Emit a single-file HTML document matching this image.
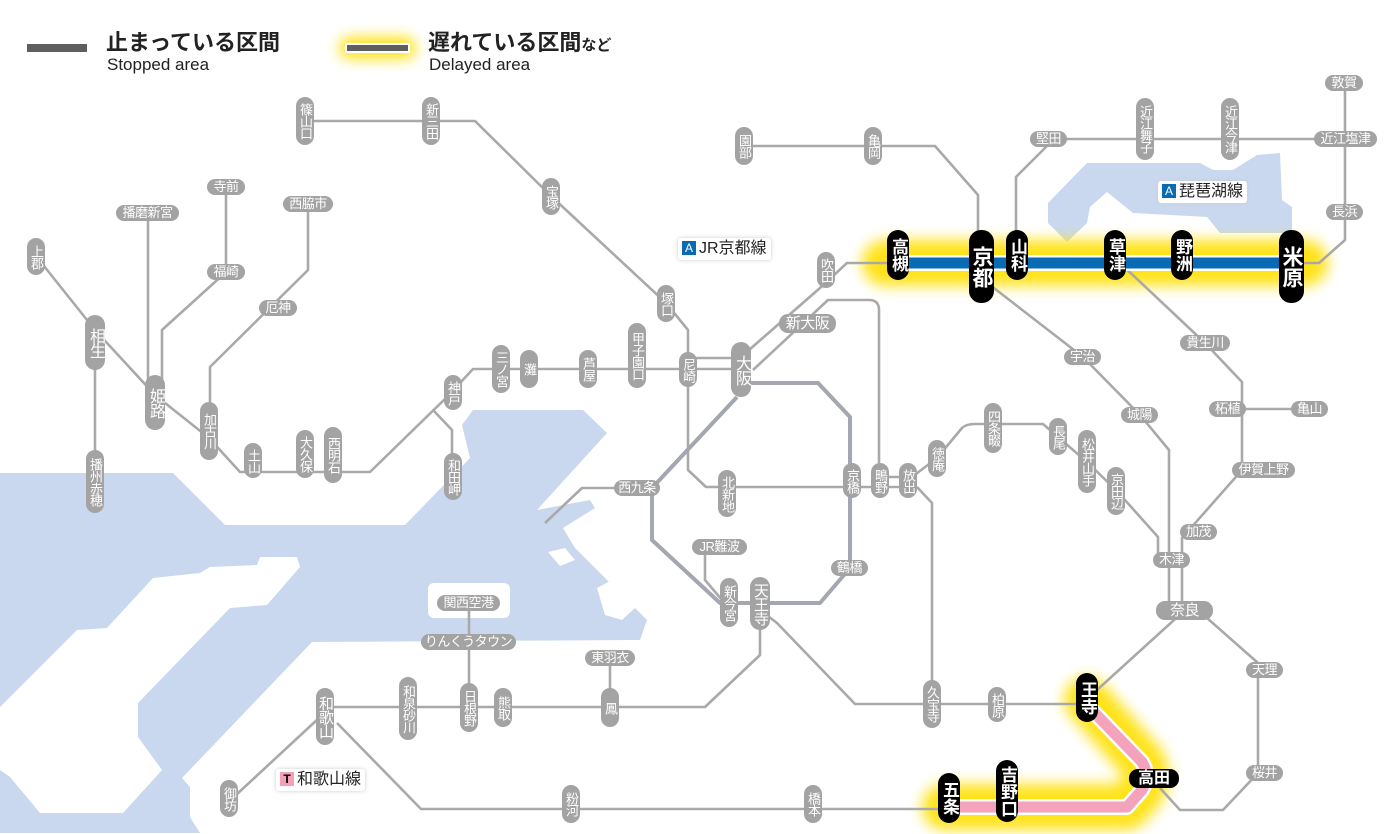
<!DOCTYPE html>
<html><head><meta charset="utf-8"><style>
body{margin:0;width:1400px;height:834px;overflow:hidden;background:#fff;position:relative;font-family:"Liberation Sans","Noto Sans CJK JP",sans-serif}
svg{position:absolute;left:0;top:0}
.v,.h,.b,.bh{position:absolute;color:#fff;text-align:center;white-space:nowrap;box-sizing:border-box}
.v{width:18px;border-radius:9px;background:#a3a3a3;font-size:13px;line-height:18px;writing-mode:vertical-rl;letter-spacing:-1px;display:flex;align-items:center;justify-content:center}
.v.g{width:20px;border-radius:10px;font-size:16px;line-height:20px}
.h{height:16px;border-radius:8px;background:#a3a3a3;font-size:13px;line-height:16px;letter-spacing:-0.5px}
.h.g{height:19px;border-radius:9px;font-size:15px;line-height:19px}
.b{width:22px;border-radius:11px;background:#000;font-size:17px;line-height:22px;writing-mode:vertical-rl;display:flex;align-items:center;justify-content:center;font-weight:bold}
.b.g{width:25px;border-radius:12px;font-size:21px;line-height:25px}
.bh{height:19px;border-radius:9px;background:#000;font-size:16px;line-height:19px;font-weight:bold}
.lab{position:absolute;background:#fff;box-shadow:0 0 4px #ccc;border-radius:3px;font-size:16px;line-height:20px;color:#222;padding:1px 4px;white-space:nowrap}
.lab i{display:inline-block;width:14px;height:14px;line-height:14px;font-size:12px;font-style:normal;text-align:center;color:#fff;background:#0a6bb5;margin-right:3px;vertical-align:1px}
.leg{position:absolute;color:#222;white-space:nowrap}
</style></head><body>
<svg width="1400" height="834" viewBox="0 0 1400 834">
<defs><filter id="bl" x="-20%" y="-50%" width="140%" height="200%"><feGaussianBlur stdDeviation="7"/></filter></defs>
<!-- water -->
<g fill="#c9d8ef">
<path d="M0,473 L173,473 L225,525 L405,525 L470,458 L462,425 L473,410 L583,410 L607,433 L537,510 L590,500 L595,508 L563,528 L575,548 L647,620 L640,640 L312,642 L182,778 L190,787 L190,817 L200,833 L0,833 Z"/>
<path d="M1087,163 L1200,163 L1213,170 L1233,170 L1257,155 L1280,153 L1282,200 L1292,207 L1292,233 L1220,233 L1207,217 L1133,213 L1107,192 L1090,207 L1087,223 L1067,242 L1048,223 L1048,203 Z"/>
</g>
<g fill="#fff">
<path d="M260,557 L297,557 L300,567 L267,605 L230,608 L138,703 L138,737 L162,770 L123,813 L40,813 L10,777 L0,770 L0,707 L77,630 L107,628 L153,578 L200,573 L210,567 L257,565 Z"/>
<rect x="428" y="583" width="82" height="35" rx="6"/>
<path d="M597,588 L612,580 L635,608 L622,620 L605,615 Z"/>
<path d="M548,552 L565,548 L575,560 L560,566 Z"/>
</g>
<!-- glows -->
<g stroke="#ffe000" fill="none" stroke-linecap="round" stroke-linejoin="round" filter="url(#bl)" opacity="0.9">
<path d="M885,263 H1305" stroke-width="46"/>
<path d="M1087,700 L1142,762 Q1150,775 1142,790 L1127,807 H945" stroke-width="46"/>
<path d="M350,48 H405" stroke-width="22"/>
</g>
<!-- grey lines -->
<g stroke="#a9a9a9" stroke-width="2.6" fill="none" stroke-linejoin="round">
<path d="M305,121 H475 L551,196 L666,303 L688,330 V470 L706,487 H908"/>
<path d="M880,477 H908"/>
<path d="M879,463 V310 Q879,300 869,300 H828 L753,370"/>
<path d="M741,357 L820,288 L847,263 H898"/>
<path d="M36,256 L95,330 L155,395 L209,438 L240,472 H370 L447,397 L473,369 H741"/>
<path d="M688,358 H741"/>
<path d="M433,410 L452,430 V470"/>
<path d="M95,340 V490"/>
<path d="M148,213 V400"/>
<path d="M226,187 V272 L162,330 V400"/>
<path d="M308,204 V270 L210,367 V430"/>
<path d="M744,146 H935 L978,195 V260"/>
<path d="M990,285 L1083,357 L1140,415 L1169,450 V610"/>
<path d="M1016,250 V177 L1046,147 L1049,139 H1346"/>
<path d="M1345,83 V240 L1319,263 H1291"/>
<path d="M1120,263 L1205,343 L1242,382 V470 L1182,538 V610"/>
<path d="M1228,409 H1310"/>
<path d="M908,480 L937,458 L962,428 Q966,424 975,424 H1043 L1058,437 L1087,462 L1116,490 L1158,537 V560"/>
<path d="M1185,610 L1097,690 L1085,704"/>
<path d="M917,487 L932,503 V704"/>
<path d="M760,610 L777,623 L855,704 H1087"/>
<path d="M1207,618 L1258,663 V773 L1223,810 H1180 L1160,788"/>
<path d="M949,809 H421 L337,723"/>
<path d="M319,718 L236,795"/>
<path d="M325,707 H705 L760,655 V620"/>
<path d="M610,658 V700"/>
<path d="M469,603 V700"/>
<path d="M637,488 H582 L545,523"/>
<path d="M705,547 V580 L722,600"/>
</g>
<path d="M741,383 H818 L850,417 V568 L820,603 H720 L652,540 V488 L737,397" stroke="#a4a6b2" stroke-width="4" fill="none" stroke-linejoin="round"/>
<!-- highlighted lines -->
<path d="M898,263 H1291" stroke="#fff" stroke-width="16" fill="none"/>
<path d="M898,263 H1291" stroke="#0a6bb5" stroke-width="11" fill="none"/>
<path d="M1087,705 L1142,762 Q1150,775 1142,790 L1127,807 H949" stroke="#fff" stroke-width="16" fill="none" stroke-linejoin="round"/>
<path d="M1087,705 L1142,762 Q1150,775 1142,790 L1127,807 H949" stroke="#f3a3bb" stroke-width="11" fill="none" stroke-linejoin="round"/>
<!-- legend bars -->
<rect x="27" y="44" width="60" height="8" fill="#5f5f5f"/>
<rect x="345" y="43" width="65" height="10" fill="#fff"/>
<rect x="347" y="45" width="61" height="6" fill="#5f5f5f"/>
</svg>

<div class="leg" style="left:106px;top:25px;font-size:22px;font-weight:bold">止まっている区間</div>
<div class="leg" style="left:107px;top:55px;font-size:17px">Stopped area</div>
<div class="leg" style="left:428px;top:25px;font-size:22px;font-weight:bold">遅れている区間<span style="font-size:15px">など</span></div>
<div class="leg" style="left:429px;top:55px;font-size:17px">Delayed area</div>

<div class="lab" style="left:678px;top:238px"><i>A</i>JR京都線</div>
<div class="lab" style="left:1158px;top:181px"><i>A</i>琵琶湖線</div>
<div class="lab" style="left:276px;top:769px"><i style="background:#f4a0b8;color:#000;font-weight:bold">T</i>和歌山線</div>

<!-- vertical grey -->
<div class="v" style="left:296px;top:97px;height:48px">篠山口</div>
<div class="v" style="left:422px;top:97px;height:48px">新三田</div>
<div class="v" style="left:27px;top:238px;height:37px">上郡</div>
<div class="v g" style="left:85px;top:315px;height:55px">相生</div>
<div class="v g" style="left:145px;top:375px;height:55px">姫路</div>
<div class="v" style="left:200px;top:402px;height:58px">加古川</div>
<div class="v" style="left:244px;top:443px;height:35px">土山</div>
<div class="v" style="left:296px;top:430px;height:48px">大久保</div>
<div class="v" style="left:324px;top:427px;height:56px">西明石</div>
<div class="v" style="left:444px;top:375px;height:35px">神戸</div>
<div class="v" style="left:444px;top:453px;height:47px">和田岬</div>
<div class="v" style="left:86px;top:450px;height:63px">播州赤穂</div>
<div class="v" style="left:542px;top:178px;height:37px">宝塚</div>
<div class="v" style="left:657px;top:285px;height:37px">塚口</div>
<div class="v" style="left:735px;top:127px;height:38px">園部</div>
<div class="v" style="left:864px;top:127px;height:38px">亀岡</div>
<div class="v" style="left:817px;top:252px;height:36px">吹田</div>
<div class="v g" style="left:731px;top:342px;height:55px">大阪</div>
<div class="v" style="left:679px;top:352px;height:35px">尼崎</div>
<div class="v" style="left:628px;top:323px;height:65px">甲子園口</div>
<div class="v" style="left:579px;top:350px;height:38px">芦屋</div>
<div class="v" style="left:520px;top:350px;height:38px">灘</div>
<div class="v" style="left:492px;top:345px;height:48px">三ノ宮</div>
<div class="v" style="left:718px;top:470px;height:47px">北新地</div>
<div class="v" style="left:843px;top:463px;height:35px">京橋</div>
<div class="v" style="left:871px;top:463px;height:35px">鴫野</div>
<div class="v" style="left:899px;top:463px;height:35px">放出</div>
<div class="v" style="left:928px;top:440px;height:37px">徳庵</div>
<div class="v" style="left:720px;top:578px;height:49px">新今宮</div>
<div class="v g" style="left:750px;top:577px;height:53px;font-size:15px">天王寺</div>
<div class="v" style="left:923px;top:680px;height:48px">久宝寺</div>
<div class="v" style="left:988px;top:687px;height:35px">柏原</div>
<div class="v" style="left:984px;top:403px;height:50px">四条畷</div>
<div class="v" style="left:1049px;top:418px;height:37px">長尾</div>
<div class="v" style="left:1078px;top:430px;height:63px">松井山手</div>
<div class="v" style="left:1107px;top:467px;height:48px">京田辺</div>
<div class="v" style="left:1136px;top:98px;height:62px">近江舞子</div>
<div class="v" style="left:1221px;top:98px;height:62px">近江今津</div>
<div class="v" style="left:316px;top:688px;height:57px;font-size:15px">和歌山</div>
<div class="v" style="left:399px;top:677px;height:63px">和泉砂川</div>
<div class="v" style="left:460px;top:683px;height:49px">日根野</div>
<div class="v" style="left:494px;top:688px;height:39px">熊取</div>
<div class="v" style="left:601px;top:688px;height:39px">鳳</div>
<div class="v" style="left:562px;top:785px;height:38px">粉河</div>
<div class="v" style="left:804px;top:785px;height:38px">橋本</div>
<div class="v" style="left:220px;top:780px;height:37px">御坊</div>

<!-- horizontal grey -->
<div class="h" style="left:207px;top:179px;width:38px">寺前</div>
<div class="h" style="left:207px;top:264px;width:38px">福崎</div>
<div class="h" style="left:116px;top:205px;width:63px">播磨新宮</div>
<div class="h" style="left:283px;top:196px;width:50px">西脇市</div>
<div class="h" style="left:259px;top:300px;width:38px">厄神</div>
<div class="h g" style="left:779px;top:314px;width:57px">新大阪</div>
<div class="h" style="left:614px;top:480px;width:46px">西九条</div>
<div class="h" style="left:692px;top:539px;width:55px">JR難波</div>
<div class="h" style="left:831px;top:560px;width:37px">鶴橋</div>
<div class="h" style="left:437px;top:595px;width:63px">関西空港</div>
<div class="h" style="left:421px;top:634px;width:95px">りんくうタウン</div>
<div class="h" style="left:585px;top:650px;width:50px">東羽衣</div>
<div class="h g" style="left:1156px;top:601px;width:57px">奈良</div>
<div class="h" style="left:1246px;top:662px;width:37px">天理</div>
<div class="h" style="left:1246px;top:765px;width:37px">桜井</div>
<div class="h" style="left:1153px;top:552px;width:37px">木津</div>
<div class="h" style="left:1180px;top:524px;width:37px">加茂</div>
<div class="h" style="left:1121px;top:407px;width:37px">城陽</div>
<div class="h" style="left:1064px;top:349px;width:37px">宇治</div>
<div class="h" style="left:1180px;top:335px;width:50px">貴生川</div>
<div class="h" style="left:1209px;top:401px;width:37px">柘植</div>
<div class="h" style="left:1291px;top:401px;width:37px">亀山</div>
<div class="h" style="left:1232px;top:462px;width:63px">伊賀上野</div>
<div class="h" style="left:1325px;top:75px;width:38px">敦賀</div>
<div class="h" style="left:1314px;top:131px;width:63px">近江塩津</div>
<div class="h" style="left:1030px;top:131px;width:37px">堅田</div>
<div class="h" style="left:1326px;top:204px;width:37px">長浜</div>

<!-- black -->
<div class="b" style="left:887px;top:230px;height:50px">高槻</div>
<div class="b g" style="left:969px;top:230px;height:73px">京都</div>
<div class="b" style="left:1006px;top:230px;height:50px">山科</div>
<div class="b" style="left:1104px;top:230px;height:50px">草津</div>
<div class="b" style="left:1171px;top:230px;height:50px">野洲</div>
<div class="b g" style="left:1279px;top:230px;height:73px">米原</div>
<div class="b" style="left:1076px;top:673px;height:49px">王寺</div>
<div class="b" style="left:996px;top:760px;height:62px">吉野口</div>
<div class="b" style="left:938px;top:773px;height:50px">五条</div>
<div class="bh" style="left:1129px;top:769px;width:50px">高田</div>
</body></html>
